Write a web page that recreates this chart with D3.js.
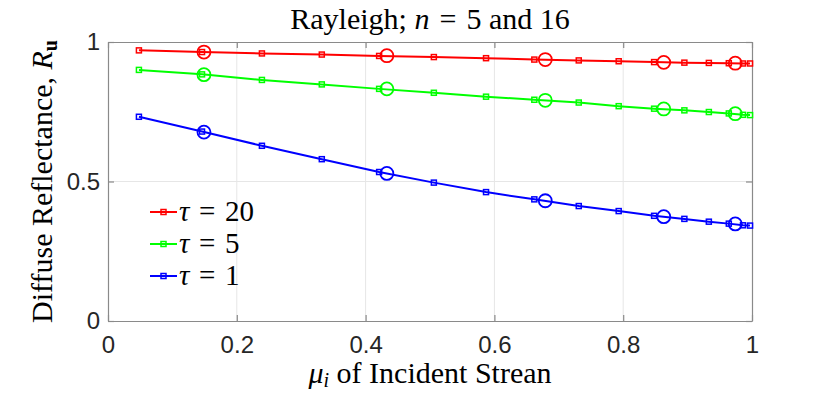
<!DOCTYPE html>
<html>
<head>
  <meta charset="UTF-8" />
  <title>Rayleigh diffuse reflectance</title>
  <script src="https://d3js.org/d3.v7.min.js"></script>
  <style>
    body { margin: 0; background: #fff; }
    .tick text { font-family: "Liberation Sans", Arial, sans-serif; font-size: 24px; fill: #262626; }
  </style>
</head>
<body>
  <div id="chart"></div>

  <script>
    // incident stream cosines (n = 16 lines with squares, n = 5 circles)
    const mu16 = [0.048, 0.146, 0.239, 0.332, 0.421, 0.506, 0.587, 0.662, 0.731, 0.793, 0.848, 0.895, 0.933, 0.964, 0.986, 0.997];
    const mu5 = [0.149, 0.433, 0.679, 0.863, 0.974];

    const tau20_16 = [0.970, 0.964, 0.959, 0.955, 0.950, 0.946, 0.942, 0.937, 0.934, 0.931, 0.928, 0.926, 0.925, 0.924, 0.923, 0.923];
    const tau5_16 = [0.900, 0.884, 0.864, 0.848, 0.832, 0.818, 0.804, 0.793, 0.783, 0.770, 0.761, 0.755, 0.749, 0.744, 0.739, 0.738];
    const tau1_16 = [0.732, 0.679, 0.628, 0.580, 0.534, 0.496, 0.462, 0.436, 0.412, 0.394, 0.377, 0.366, 0.356, 0.349, 0.343, 0.342];

    const tau20_5 = [0.964, 0.951, 0.937, 0.927, 0.924];
    const tau5_5 = [0.883, 0.832, 0.791, 0.760, 0.743];
    const tau1_5 = [0.677, 0.529, 0.431, 0.374, 0.348];

    const tauLabels = ["20", "5", "1"];
    const colors = ["#ff0000", "#00ff00", "#0000ff"];
    const xTicks = [0, 0.2, 0.4, 0.6, 0.8, 1];
    const yTicks = [0, 0.5, 1];

    const serif = "'Liberation Serif', 'DejaVu Serif', 'Times New Roman', serif";
    const eq = "\u2004=\u2004"; // wider math-style spacing round "="

    const width = 830, height = 395;
    const margin = { top: 42, right: 78, bottom: 74, left: 108 };
    const innerW = width - margin.left - margin.right;
    const innerH = height - margin.top - margin.bottom;

    const svg = d3.select("#chart")
      .append("svg")
      .attr("width", width)
      .attr("height", height);

    const g = svg.append("g")
      .attr("transform", "translate(" + margin.left + "," + margin.top + ")");

    const xScale = d3.scaleLinear().domain([0, 1]).range([0, innerW]);
    const yScale = d3.scaleLinear().domain([0, 1]).range([innerH, 0]);

    // grid
    g.append("g")
      .selectAll("line")
      .data(xTicks.slice(1, -1))
      .enter()
      .append("line")
      .attr("x1", d => xScale(d)).attr("x2", d => xScale(d))
      .attr("y1", 0).attr("y2", innerH)
      .attr("stroke", "#e6e6e6");
    g.append("g")
      .selectAll("line")
      .data(yTicks.slice(1, -1))
      .enter()
      .append("line")
      .attr("y1", d => yScale(d)).attr("y2", d => yScale(d))
      .attr("x1", 0).attr("x2", innerW)
      .attr("stroke", "#e6e6e6");

    // axes (ticks inward, box on)
    const axisColor = "#8a8a8a";
    const xAxis = g.append("g")
      .attr("transform", "translate(0," + innerH + ")")
      .call(d3.axisBottom(xScale).tickValues(xTicks).tickFormat(d3.format("~g")).tickSizeInner(-6).tickSizeOuter(0).tickPadding(14));
    const yAxis = g.append("g")
      .call(d3.axisLeft(yScale).tickValues(yTicks).tickFormat(d3.format("~g")).tickSizeInner(-6).tickSizeOuter(0).tickPadding(8));
    g.append("g")
      .call(d3.axisTop(xScale).tickValues(xTicks).tickFormat("").tickSizeInner(-6).tickSizeOuter(0));
    g.append("g")
      .attr("transform", "translate(" + innerW + ",0)")
      .call(d3.axisRight(yScale).tickValues(yTicks).tickFormat("").tickSizeInner(-6).tickSizeOuter(0));
    g.selectAll(".domain, .tick line").attr("stroke", axisColor).attr("stroke-width", 1.2);
    xAxis.selectAll(".tick text").attr("dy", "0.75em");

    // series
    const series16 = [tau20_16, tau5_16, tau1_16];
    const series5 = [tau20_5, tau5_5, tau1_5];

    const line = d3.line()
      .x((d, i) => xScale(mu16[i]))
      .y(d => yScale(d));

    series16.forEach((vals, k) => {
      g.append("path")
        .datum(vals)
        .attr("fill", "none")
        .attr("stroke", colors[k])
        .attr("stroke-width", 2)
        .attr("d", line);
      g.append("g")
        .selectAll("rect")
        .data(vals)
        .enter()
        .append("rect")
        .attr("x", (d, i) => xScale(mu16[i]) - 2.5)
        .attr("y", d => yScale(d) - 2.5)
        .attr("width", 5)
        .attr("height", 5)
        .attr("fill", "none")
        .attr("stroke", colors[k])
        .attr("stroke-width", 1.5);
    });

    series5.forEach((vals, k) => {
      g.append("g")
        .selectAll("circle")
        .data(vals)
        .enter()
        .append("circle")
        .attr("cx", (d, i) => xScale(mu5[i]))
        .attr("cy", d => yScale(d))
        .attr("r", 6.5)
        .attr("fill", "none")
        .attr("stroke", colors[k])
        .attr("stroke-width", 1.8);
    });

    // legend
    const legend = g.append("g").attr("transform", "translate(42,170)");
    tauLabels.forEach((lab, k) => {
      const row = legend.append("g").attr("transform", "translate(0," + (k * 32) + ")");
      row.append("line")
        .attr("x1", 0).attr("x2", 27)
        .attr("stroke", colors[k]).attr("stroke-width", 2);
      row.append("rect")
        .attr("x", 11).attr("y", -2.5).attr("width", 5).attr("height", 5)
        .attr("fill", "none").attr("stroke", colors[k]).attr("stroke-width", 1.5);
      const t = row.append("text")
        .attr("x", 29)
        .attr("y", 9)
        .style("font-family", serif)
        .style("font-size", "29px");
      t.append("tspan").style("font-style", "italic").text("τ");
      t.append("tspan").text(eq + lab);
    });

    // title
    const title = svg.append("text")
      .attr("x", margin.left + innerW / 2)
      .attr("y", 29)
      .attr("text-anchor", "middle")
      .style("font-family", serif)
      .style("font-size", "30px");
    title.append("tspan").text("Rayleigh; ");
    title.append("tspan").style("font-style", "italic").text("n");
    title.append("tspan").text(eq + "5 and 16");

    // x label
    const xl = svg.append("text")
      .attr("x", margin.left + innerW / 2)
      .attr("y", 383)
      .attr("text-anchor", "middle")
      .style("font-family", serif)
      .style("font-size", "30px");
    xl.append("tspan").style("font-style", "italic").text("μ");
    xl.append("tspan").style("font-style", "italic").style("font-size", "20px").attr("dy", 4).text("i");
    xl.append("tspan").attr("dy", -4).text(" of Incident Strean");

    // y label
    const yl = svg.append("text")
      .attr("transform", "translate(52," + (margin.top + innerH / 2) + ") rotate(-90)")
      .attr("text-anchor", "middle")
      .style("font-family", serif)
      .style("font-size", "30px");
    yl.append("tspan").text("Diffuse Reflectance, ");
    yl.append("tspan").style("font-style", "italic").text("R");
    yl.append("tspan").style("font-weight", "bold").style("font-size", "20px").attr("dy", 5).text("u");
  </script>
</body>
</html>
